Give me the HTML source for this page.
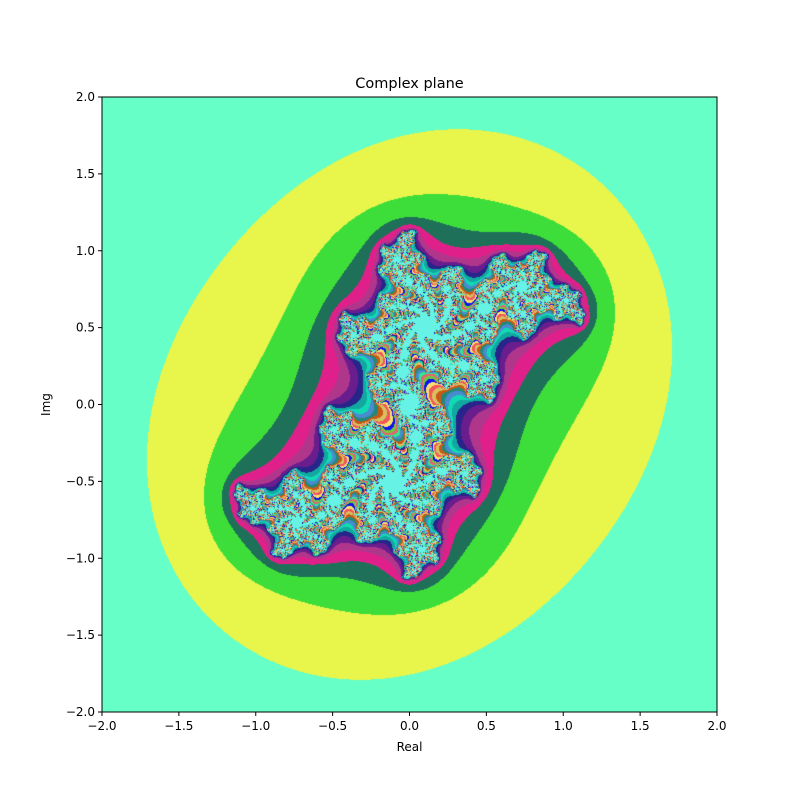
<!DOCTYPE html>
<html><head><meta charset="utf-8">
<style>
html,body{margin:0;padding:0;background:#fff;}
#wrap{position:relative;width:800px;height:800px;font-family:"DejaVu Sans","Liberation Sans",sans-serif;}
#frac{position:absolute;left:102px;top:97px;width:615px;height:615px;}
svg{position:absolute;left:0;top:0;}
</style></head><body>
<div id="wrap">
<canvas id="frac" width="615" height="615"></canvas>
<svg id="ax" width="800" height="800"></svg>
</div>
<script>
const cParam = [0.15, -0.615];
const extent = [-2, 2, -2, 2];
const xTicks = [-2.0,-1.5,-1.0,-0.5,0.0,0.5,1.0,1.5,2.0];
const yTicks = [-2.0,-1.5,-1.0,-0.5,0.0,0.5,1.0,1.5,2.0];
const palette = ["#66ffc8","#66ffc8","#e8f54a","#3ede3a","#1f7058","#e0208a","#b0368c","#6a1e8e","#28248a","#12a8a0","#12d8b4","#4a8ad0","#23887a","#c85a14","#d8c060"];
const cyclePal = ["#f05858","#f8e070","#1010f0","#70c840","#e86070","#30e890","#4a8ad0","#2a8a7a","#c85a14","#d8c060","#12d8b4","#28248a"];
const interiorColor = "#66f2e4";
const maxIter = 50, escR = 3;

const L=102,T=97,S=615;
function sx(v){return L+(v-extent[0])/(extent[1]-extent[0])*S;}
function sy(v){return T+(extent[3]-v)/(extent[3]-extent[2])*S;}

function hex(h){return [parseInt(h.substr(1,2),16),parseInt(h.substr(3,2),16),parseInt(h.substr(5,2),16)];}
const palRGB=palette.map(hex), cycRGB=cyclePal.map(hex), inRGB=hex(interiorColor);
const cv=document.getElementById('frac'), ctx=cv.getContext('2d');
const img=ctx.createImageData(S,S);
const cr=cParam[0], ci=cParam[1], R2=escR*escR;
for(let py=0;py<S;py++){
  const y=extent[3]-(py+0.5)/S*(extent[3]-extent[2]);
  for(let px=0;px<S;px++){
    let x=extent[0]+(px+0.5)/S*(extent[1]-extent[0]);
    let zr=x, zi=y, n=0, esc=false;
    while(n<maxIter){
      const t=zr*zr-zi*zi+cr; zi=2*zr*zi+ci; zr=t; n++;
      if(zr*zr+zi*zi>R2){esc=true;break;}
    }
    let col;
    if(!esc) col=inRGB;
    else if(n<palRGB.length) col=palRGB[n];
    else col=cycRGB[(n-palRGB.length)%cycRGB.length];
    const k=(py*S+px)*4;
    img.data[k]=col[0];img.data[k+1]=col[1];img.data[k+2]=col[2];img.data[k+3]=255;
  }
}
ctx.putImageData(img,0,0);

const NS="http://www.w3.org/2000/svg";
const svg=document.getElementById('ax');
function el(tag,attrs,txt){const e=document.createElementNS(NS,tag);for(const k in attrs)e.setAttribute(k,attrs[k]);if(txt!==undefined)e.textContent=txt;svg.appendChild(e);return e;}
function fmt(v){const s=Math.abs(v).toFixed(1);return (v<0?"\u2212":"")+s;}
let frame=el('rect',{x:L,y:T,width:S,height:S,fill:'none',stroke:'#000','stroke-width':1});


xTicks.forEach(v=>{
  const X=sx(v);
  const t=el('line',{x1:X,y1:T+S,x2:X,y2:T+S+4,stroke:'#000','stroke-width':1});
  
  
  const l=el('text',{x:X,y:T+S+18,'text-anchor':'middle','font-size':12,fill:'#000'},fmt(v));
  
  
});
yTicks.forEach(v=>{
  const Y=sy(v);
  const t=el('line',{x1:L-4,y1:Y,x2:L,y2:Y,stroke:'#000','stroke-width':1});
  
  
  const l=el('text',{x:L-7,y:Y+4,'text-anchor':'end','font-size':12,fill:'#000'},fmt(v));
  
  
});
const ti=el('text',{x:L+S/2,y:88,'text-anchor':'middle','font-size':14.5,fill:'#000'},'Complex plane');


const xl=el('text',{x:L+S/2,y:751,'text-anchor':'middle','font-size':12,fill:'#000'},'Real');


const yl=el('text',{x:50,y:T+S/2,'text-anchor':'middle','font-size':12,fill:'#000',transform:'rotate(-90 50 '+(T+S/2)+')'},'Img');


</script>
</body></html>
